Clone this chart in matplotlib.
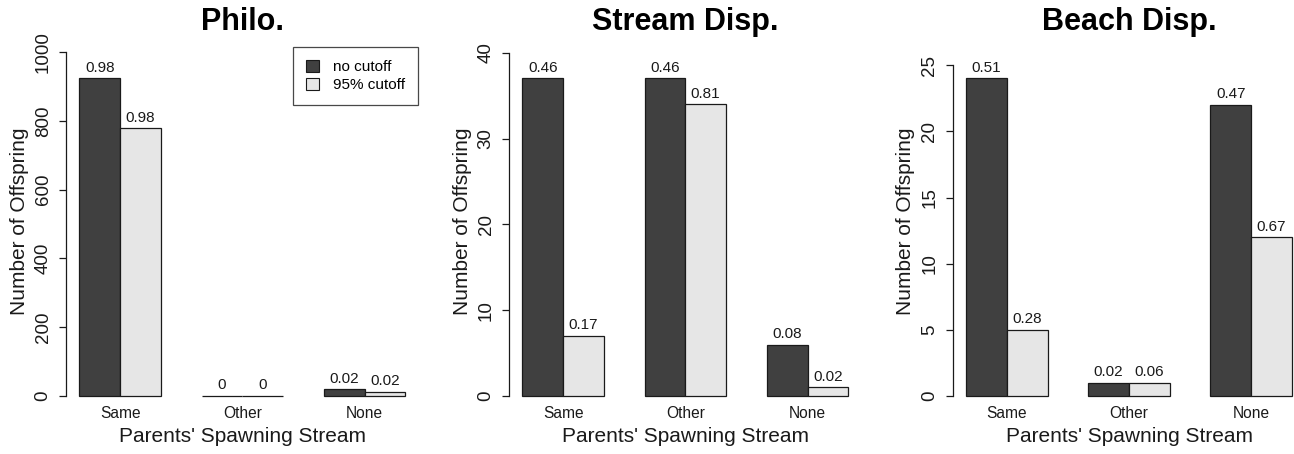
import matplotlib
matplotlib.use("Agg")
import matplotlib.pyplot as plt
import matplotlib.transforms as mtransforms
from matplotlib.patches import Patch
import numpy as np

plt.rcParams['font.family'] = ['Liberation Sans', 'DejaVu Sans']

# ---- data ----
categories = ["Same", "Other", "None"]
series_names = ["no cutoff", "95% cutoff"]
titles = ["Philo.", "Stream Disp.", "Beach Disp."]

philo_nocut = [923, 0, 19]
philo_cut = [778, 0, 12]
stream_nocut = [37, 37, 6]
stream_cut = [7, 34, 1]
beach_nocut = [24, 1, 22]
beach_cut = [5, 1, 12]

philo_lab_nocut = ["0.98", "0", "0.02"]
philo_lab_cut = ["0.98", "0", "0.02"]
stream_lab_nocut = ["0.46", "0.46", "0.08"]
stream_lab_cut = ["0.17", "0.81", "0.02"]
beach_lab_nocut = ["0.51", "0.02", "0.47"]
beach_lab_cut = ["0.28", "0.06", "0.67"]

yticks_philo = [0, 200, 400, 600, 800, 1000]
yticks_stream = [0, 10, 20, 30, 40]
yticks_beach = [0, 5, 10, 15, 20, 25]

panels = [
    (philo_nocut, philo_cut, philo_lab_nocut, philo_lab_cut, yticks_philo),
    (stream_nocut, stream_cut, stream_lab_nocut, stream_lab_cut, yticks_stream),
    (beach_nocut, beach_cut, beach_lab_nocut, beach_lab_cut, yticks_beach),
]

# ---- style ----
W, H = 1294, 454
dark = "#404040"
light = "#e6e6e6"
edge = "#1a1a1a"

fig = plt.figure(figsize=(W / 100, H / 100), dpi=100)

left_px = [66.3, 509.3, 953.0]
ax_w_px = 352.0
bot_px, top_px = 410.0, 32.7

for i, (nc, ct, lnc, lct, yt) in enumerate(panels):
    ax = fig.add_axes([left_px[i] / W, (H - bot_px) / H, ax_w_px / W, (bot_px - top_px) / H])
    n = len(categories)
    g = np.arange(n) * 3
    x_dark = g + 1.5
    x_light = g + 2.5
    ax.bar(x_dark, nc, width=1.0, color=dark, edgecolor=edge, linewidth=0.9)
    ax.bar(x_light, ct, width=1.0, color=light, edgecolor=edge, linewidth=0.9)

    rng = max(max(nc), max(ct)) * 1.1
    ax.set_ylim(-0.04 * rng, 1.04 * rng)
    ax.set_xlim(0.68, 3 * n + 0.32)

    for x, v, s in zip(x_dark, nc, lnc):
        ax.annotate(s, (x, v), xytext=(0, 4.8), textcoords="offset points",
                    ha="center", va="baseline", fontsize=11, color="#1a1a1a")
    for x, v, s in zip(x_light, ct, lct):
        ax.annotate(s, (x, v), xytext=(0, 4.8), textcoords="offset points",
                    ha="center", va="baseline", fontsize=11, color="#1a1a1a")

    # spines
    for sp in ["top", "right", "bottom"]:
        ax.spines[sp].set_visible(False)
    ax.spines["left"].set_bounds(yt[0], yt[-1])
    ax.spines["left"].set_linewidth(0.9)
    ax.spines["left"].set_color("#1a1a1a")

    ax.set_yticks(yt)
    ax.set_yticklabels([str(t) for t in yt], rotation=90, va="center", fontsize=13.5)
    ax.tick_params(axis="y", length=5, width=0.9, pad=5.5, colors="#1a1a1a")
    ax.set_xticks([])

    trans = mtransforms.blended_transform_factory(ax.transData, ax.transAxes)
    for x, c in zip(g + 2.0, categories):
        ax.text(x, -0.008, c, transform=trans, ha="center", va="center", fontsize=11.2, color="#1a1a1a")

    ax.text(0.5, -0.071, "Parents' Spawning Stream", transform=ax.transAxes,
            ha="center", va="center", fontsize=15, color="#1a1a1a")
    ax.set_ylabel("Number of Offspring", fontsize=15, color="#1a1a1a")
    ax.yaxis.set_label_coords(-0.134, 0.5)
    ax.yaxis.label.set_va("center")

    ax.text(0.5, 1.029, titles[i], transform=ax.transAxes, ha="center", va="center",
            fontsize=22, fontweight="bold")

    if i == 0:
        handles = [Patch(facecolor=dark, edgecolor=edge, linewidth=0.8),
                   Patch(facecolor=light, edgecolor=edge, linewidth=0.8)]
        leg = ax.legend(handles, series_names, loc="upper right", bbox_to_anchor=(1.0, 0.963),
                        borderaxespad=0, fontsize=11, frameon=True, fancybox=False,
                        borderpad=0.85, labelspacing=0.25, handlelength=0.85, handleheight=0.85,
                        handletextpad=0.9)
        leg.get_frame().set_edgecolor("#1a1a1a")
        leg.get_frame().set_linewidth(0.9)

fig.savefig("out.png", dpi=100)
